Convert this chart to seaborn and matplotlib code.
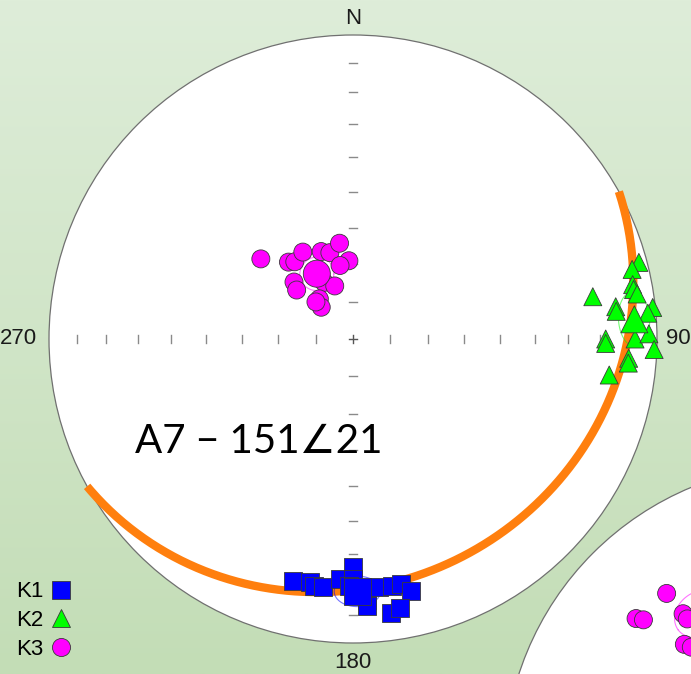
import numpy as np
import pandas as pd
import matplotlib.pyplot as plt
import seaborn as sns
from matplotlib.patches import Circle
from matplotlib.lines import Line2D
from matplotlib.colors import LinearSegmentedColormap

# K1 / K2 / K3 axes, trend and plunge in degrees (lower hemisphere)
k1_trend = [194, 190, 189, 187, 183, 180, 180, 181, 177, 174, 171, 169, 167, 172, 170, 177]
k1_plunge = [19, 20, 19, 19, 22, 26, 22, 20, 15, 19, 19, 19, 16, 10, 11, 13]
k2_trend = [80, 75, 76, 79, 80, 81, 83, 84, 84, 85, 90, 91, 90, 89, 92, 94, 95, 98]
k2_plunge = [21, 3, 6, 7, 7, 6, 14, 14, 1, 3, 18, 18, 8, 3, 1, 10, 10, 16]
k3_trend = [311, 320, 323, 330, 340, 345, 352, 357, 350, 314, 311, 333, 341, 320, 315, 315]
k3_plunge = [57, 63, 64, 63, 65, 66, 64, 69, 70, 68, 70, 73, 75, 76, 78, 76]

# mean directions and their confidence cones
mean_trend = {'K1': 179, 'K2': 86, 'K3': 331}
mean_plunge = {'K1': 18, 'K2': 8, 'K3': 70}
cone_angle = {'K1': 5, 'K2': 5.5, 'K3': 4.5}

# fitted plane (dip direction / dip)
plane_dd = 151
plane_dip = 21

# K3 of the neighbouring net (bottom right)
nb_trend = [321, 311, 312, 321, 321, 315, 316]
nb_plunge = [27, 26, 28, 35, 37, 42, 44]
nb_mean = (325, 38)
nb_cone = 6.5

colors = {'K1': '#0000ff', 'K2': '#00ff00', 'K3': '#ff00ff'}
markers = {'K1': 's', 'K2': '^', 'K3': 'o'}


def project(trend, plunge):
    t = np.radians(np.asarray(trend, dtype=float))
    p = np.radians(np.asarray(plunge, dtype=float))
    r = np.sqrt(2) * np.sin((np.pi / 2 - p) / 2)
    return r * np.sin(t), r * np.cos(t)


def to_vec(trend, plunge):
    t, p = np.radians(trend), np.radians(plunge)
    return np.array([np.cos(p) * np.cos(t), np.cos(p) * np.sin(t), np.sin(p)])


def vec_to_tp(v):
    v = np.where(v[:, 2:3] < 0, -v, v)
    trend = np.degrees(np.arctan2(v[:, 1], v[:, 0])) % 360
    plunge = np.degrees(np.arcsin(np.clip(v[:, 2], -1, 1)))
    return trend, plunge


def great_circle(dd, dip, n=300):
    s, d, dp = np.radians(dd - 90), np.radians(dd), np.radians(dip)
    sv = np.array([np.cos(s), np.sin(s), 0])
    dv = np.array([np.cos(d) * np.cos(dp), np.sin(d) * np.cos(dp), np.sin(dp)])
    t = np.linspace(0, np.pi, n)
    v = np.outer(np.cos(t), sv) + np.outer(np.sin(t), dv)
    return project(*vec_to_tp(v))


def cone(trend, plunge, angle, n=120):
    m = to_vec(trend, plunge)
    a = np.array([0, 0, 1.0]) if abs(m[2]) < 0.9 else np.array([1.0, 0, 0])
    u = np.cross(m, a)
    u /= np.linalg.norm(u)
    w = np.cross(m, u)
    th = np.linspace(0, 2 * np.pi, n)
    ang = np.radians(angle)
    v = np.cos(ang) * m + np.sin(ang) * (np.outer(np.cos(th), u) + np.outer(np.sin(th), w))
    return project(*vec_to_tp(v))


# canvas: pixel size and where the net sits on it
W, H = 691, 674
CX, CY, R = 353, 339, 304
NB = ((808 - CX) / R, (CY - 768) / R)

fig = plt.figure(figsize=(W / 100, H / 100), dpi=100)
ax = fig.add_axes([0, 0, 1, 1])
xlim = (-CX / R, (W - CX) / R)
ylim = ((CY - H) / R, CY / R)

bg = LinearSegmentedColormap.from_list('bg', ['#c3ddb6', '#deedd9'])
grad = np.linspace(1, 0, 256).reshape(-1, 1)
ax.imshow(grad, extent=[xlim[0], xlim[1], ylim[0], ylim[1]], cmap=bg,
          aspect='auto', zorder=0)

for c in [(0, 0), NB]:
    ax.add_patch(Circle(c, 1, facecolor='white', edgecolor='#707070', lw=0.9, zorder=1))

# tick marks every 10 degrees along the two axes
tk = 0.014
for p in range(10, 90, 10):
    r = np.sqrt(2) * np.sin(np.radians(90 - p) / 2)
    for s in (1, -1):
        ax.plot([-tk, tk], [s * r, s * r], color='#8a8a8a', lw=1, zorder=2)
        ax.plot([s * r, s * r], [-tk, tk], color='#8a8a8a', lw=1, zorder=2)
ax.plot([-tk, tk], [0, 0], color='#555555', lw=1, zorder=2)
ax.plot([0, 0], [-tk, tk], color='#555555', lw=1, zorder=2)

# great circle of the plane
gx, gy = great_circle(plane_dd, plane_dip)
ax.plot(gx, gy, color='#ff7f0e', lw=6, solid_capstyle='butt', zorder=3)

# confidence cones
for k in ['K1', 'K2', 'K3']:
    cx, cy = cone(mean_trend[k], mean_plunge[k], cone_angle[k])
    ax.plot(cx, cy, color=colors[k], lw=0.8, alpha=0.55, zorder=4)
nx, ny = cone(*nb_mean, nb_cone)
ax.plot(nx + NB[0], ny + NB[1], color=colors['K3'], lw=0.8, alpha=0.55, zorder=4)

rows = []
for k, tr, pl in [('K1', k1_trend, k1_plunge), ('K2', k2_trend, k2_plunge),
                  ('K3', k3_trend, k3_plunge)]:
    x, y = project(tr, pl)
    rows.append(pd.DataFrame({'x': x, 'y': y, 'set': k}))
x, y = project(nb_trend, nb_plunge)
rows.append(pd.DataFrame({'x': x + NB[0], 'y': y + NB[1], 'set': 'K3'}))
df = pd.concat(rows, ignore_index=True)

sns.scatterplot(data=df, x='x', y='y', hue='set', style='set', palette=colors,
                markers=markers, s=168, edgecolor='#3a3a3a', linewidth=0.6,
                legend=False, ax=ax, zorder=5)

mx, my = project(list(mean_trend.values()), list(mean_plunge.values()))
means = pd.DataFrame({'x': mx, 'y': my, 'set': list(mean_trend.keys())})
sns.scatterplot(data=means, x='x', y='y', hue='set', style='set', palette=colors,
                markers=markers, s=378, edgecolor='#3a3a3a', linewidth=0.6,
                legend=False, ax=ax, zorder=6)

lab = dict(fontsize=16, family='Liberation Sans', color='#1a1a1a', ha='center', va='center')
ax.text(0, (CY - 19) / R, 'N', **lab)
ax.text((678 - CX) / R, 0, '90', **lab)
ax.text((18 - CX) / R, 0, '270', **lab)
ax.text(0, (CY - 662) / R, '180', **lab)

ax.text((135 - CX) / R, (CY - 453) / R, 'A7 − 151∠21', fontsize=29,
        family=['Lato', 'DejaVu Sans'], color='black', ha='left', va='baseline')

handles = [Line2D([], [], ls='', marker=markers[k], ms=13, mfc=colors[k],
                  mec='#3a3a3a', mew=0.6, label=k) for k in ['K1', 'K2', 'K3']]
ax.legend(handles=handles, loc='lower left', bbox_to_anchor=(16 / W, 14 / H),
          markerfirst=False, frameon=False, handlelength=1.0, handletextpad=0.3,
          labelspacing=0.35, borderpad=0, borderaxespad=0,
          prop={'family': 'Liberation Sans', 'size': 16})

ax.set_xlim(*xlim)
ax.set_ylim(*ylim)
ax.axis('off')
fig.savefig('out.png', dpi=100)
